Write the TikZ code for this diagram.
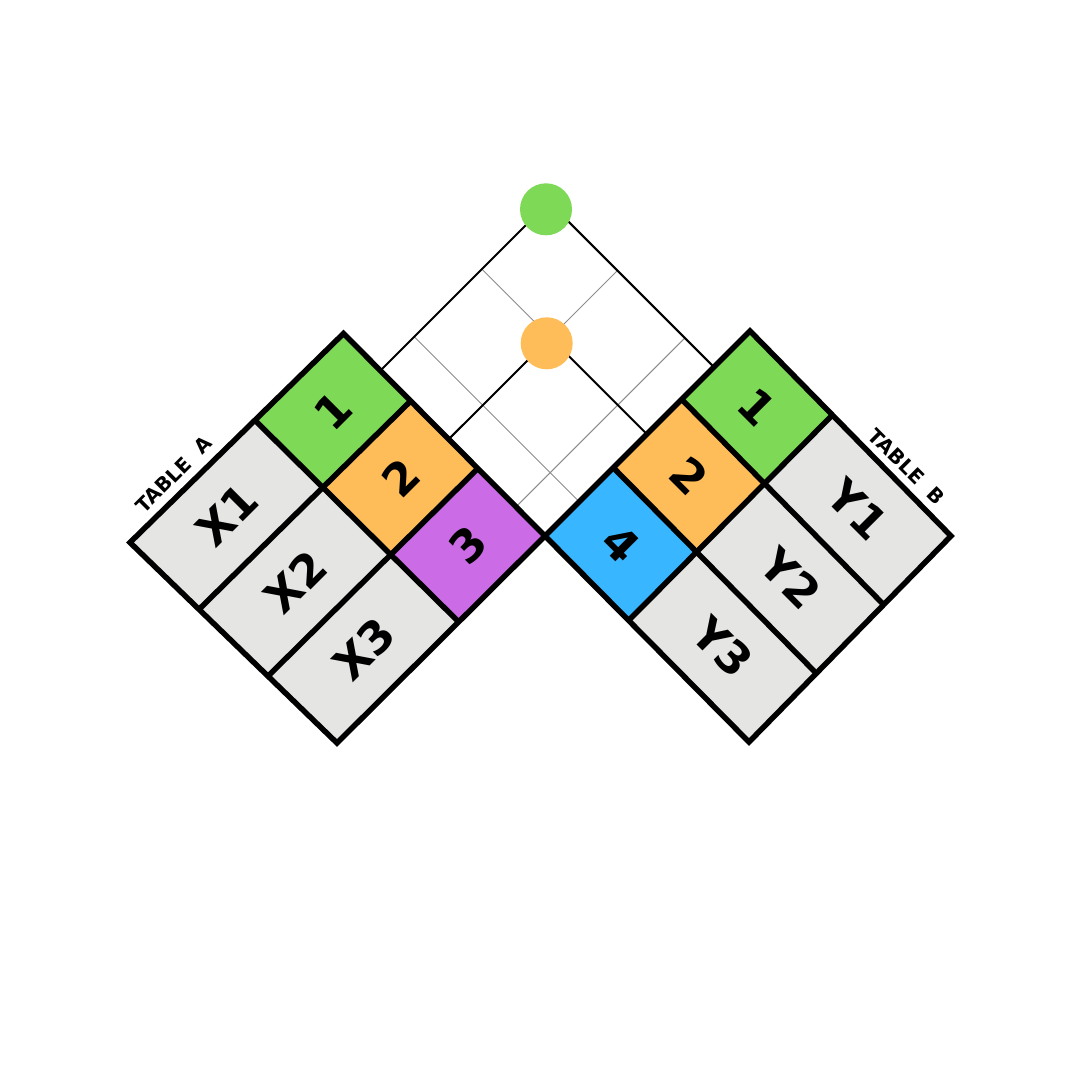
\documentclass[tikz,border=0pt]{standalone}
\usepackage{fontspec}
\setmainfont{DejaVu Sans}
\usetikzlibrary{calc}
\definecolor{kgreen}{HTML}{7ED957}
\definecolor{korange}{HTML}{FFBD59}
\definecolor{kpurple}{HTML}{CB6CE6}
\definecolor{kblue}{HTML}{38B6FF}
\definecolor{kgray}{HTML}{E5E5E3}
\definecolor{gridgray}{HTML}{8C8C8C}
\begin{document}
\begin{tikzpicture}[x=1bp,y=-1bp,
  cellborder/.style={draw=black,line width=5.5bp,line join=miter},
  celltext/.style={font=\bfseries\fontsize{45}{45}\selectfont,inner sep=0pt},
  tabletitle/.style={font=\bfseries\fontsize{20}{20}\selectfont,inner sep=0pt},
  gridline/.style={draw=gridgray,line width=1bp},
  joinline/.style={draw=black,line width=2bp},
  keydot/.style={circle,minimum size=52bp,inner sep=0pt,draw=none}]
\useasboundingbox[fill=white] (0,0) rectangle (1080,1080);

% ---- table corners
\coordinate (AT) at (343.5,333.5);
\coordinate (AR) at (545,536);
\coordinate (AL) at (130,542.5);
\coordinate (AB) at (337,743);
\coordinate (BT) at (750,331);
\coordinate (BL) at (545,536);
\coordinate (BR) at (951,536);
\coordinate (BB) at (749,742);

\foreach \i in {0,1,2,3}{
  \coordinate (At\i) at ($(AT)!\i/3!(AR)$);
  \coordinate (Ab\i) at ($(AL)!\i/3!(AB)$);
  \coordinate (Ak\i) at ($(At\i)!0.415!(Ab\i)$);
  \coordinate (Bt\i) at ($(BT)!\i/3!(BL)$);
  \coordinate (Bb\i) at ($(BR)!\i/3!(BB)$);
  \coordinate (Bk\i) at ($(Bt\i)!0.41!(Bb\i)$);
}

% ---- join grid
\coordinate (a1) at ($(AT)!0.183!(AR)$);
\coordinate (a2) at ($(AT)!0.522!(AR)$);
\coordinate (a3) at ($(AT)!0.856!(AR)$);
\coordinate (b1) at ($(BT)!0.176!(BL)$);
\coordinate (b2) at ($(BT)!0.503!(BL)$);
\coordinate (b3) at ($(BT)!0.833!(BL)$);
\foreach \k in {1,2,3}{
  \coordinate (a\k u) at ($(a\k)+(10,-10)$);
  \coordinate (b\k u) at ($(b\k)+(-10,-10)$);
}
\coordinate (g11) at (intersection of a1--a1u and b1--b1u);
\coordinate (g22) at (intersection of a2--a2u and b2--b2u);
\coordinate (g21) at (intersection of a2--a2u and b1--b1u);
\coordinate (g31) at (intersection of a3--a3u and b1--b1u);
\coordinate (g12) at (intersection of a1--a1u and b2--b2u);
\coordinate (g13) at (intersection of a1--a1u and b3--b3u);

\draw[gridline] (a2) -- (g21);
\draw[gridline] (a3) -- (g31);
\draw[gridline] (b2) -- (g12);
\draw[gridline] (b3) -- (g13);
\draw[joinline] (a1) -- (g11);
\draw[joinline] (b1) -- (g11);
\draw[joinline] (a2) -- (g22);
\draw[joinline] (b2) -- (g22);

\node[keydot,fill=kgreen] (m1) at (546,209.3) {};
\node[keydot,fill=korange] (m2) at (546.7,343.3) {};

% ---- table A
\foreach \i/\col/\lab/\glab in {1/kgreen/1/X1,2/korange/2/X2,3/kpurple/3/X3}{
  \pgfmathtruncatemacro\j{\i-1}
  \fill[\col] (At\j) -- (At\i) -- (Ak\i) -- (Ak\j) -- cycle;
  \fill[kgray] (Ak\j) -- (Ak\i) -- (Ab\i) -- (Ab\j) -- cycle;
  \node[celltext,rotate=45] (Akey\i) at ($(At\j)!0.5!(Ak\i)$) {\lab};
  \node[celltext,rotate=45] (Aval\i) at ($(Ak\j)!0.5!(Ab\i)$) {\glab};
}
\draw[cellborder] (AT) -- (AR) -- (AB) -- (AL) -- cycle;
\draw[cellborder] (At1) -- (Ab1);
\draw[cellborder] (At2) -- (Ab2);
\draw[cellborder] (Ak0) -- (Ak3);

% ---- table B
\foreach \i/\col/\lab/\glab in {1/kgreen/1/Y1,2/korange/2/Y2,3/kblue/4/Y3}{
  \pgfmathtruncatemacro\j{\i-1}
  \fill[\col] (Bt\j) -- (Bt\i) -- (Bk\i) -- (Bk\j) -- cycle;
  \fill[kgray] (Bk\j) -- (Bk\i) -- (Bb\i) -- (Bb\j) -- cycle;
  \node[celltext,rotate=-45] (Bkey\i) at ($(Bt\j)!0.5!(Bk\i)$) {\lab};
  \node[celltext,rotate=-45] (Bval\i) at ($(Bk\j)!0.5!(Bb\i)$) {\glab};
}
\draw[cellborder] (BT) -- (BR) -- (BB) -- (BL) -- cycle;
\draw[cellborder] (Bt1) -- (Bb1);
\draw[cellborder] (Bt2) -- (Bb2);
\draw[cellborder] (Bk0) -- (Bk3);

% ---- titles
\node[tabletitle,rotate=45] (titleA) at ($(AL)!0.265!(AT)+(-12.7,-12.7)$) {TABLE~~A};
\node[tabletitle,rotate=-45] (titleB) at ($(BT)!0.72!(BR)+(12,-12)$) {TABLE~~B};
\end{tikzpicture}
\end{document}
